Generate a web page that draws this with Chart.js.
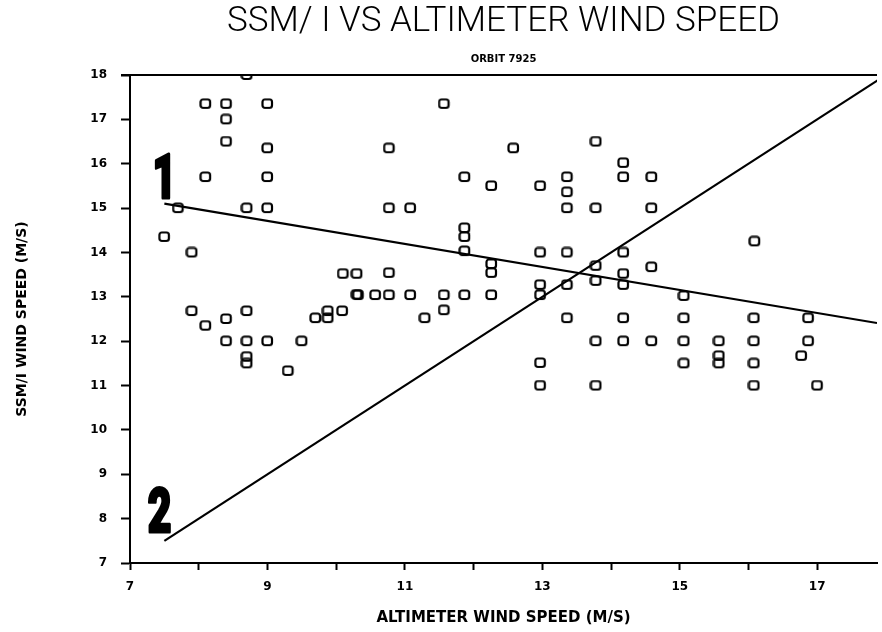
<!DOCTYPE html>
<html lang="en">
<head>
    <meta charset="UTF-8">
    <title>SSM/I vs Altimeter wind speed</title>
    <script src="https://cdn.jsdelivr.net/npm/chart.js"></script>
    <style>
        html, body { margin: 0; padding: 0; background: #fff; }
        #wrap { width: 882px; height: 632px; }
    </style>
</head>
<body>
<div id="wrap"><canvas id="chart" width="882" height="632"></canvas></div>
<script>
// altimeter wind speed (x) vs SSM/I wind speed (y), orbit 7925
const altimeter = [
    8.7, 8.1, 8.4, 9.0, 8.4, 8.4, 9.0, 8.1, 9.0, 7.7, 8.7, 9.0, 7.5, 7.9,
    10.1, 10.3, 10.3,
    11.57, 10.77, 12.58, 13.78, 11.87, 12.26, 12.97, 13.36, 13.36, 13.36, 10.77, 11.08, 13.78,
    11.87, 11.87, 11.87, 12.97, 13.36, 12.26, 12.26, 13.78, 10.77,
    14.18, 14.18, 14.59, 14.59, 16.09, 14.18, 14.59, 14.18, 14.18,
    7.9, 8.1, 8.4, 8.7, 8.4, 8.7, 8.7, 8.7, 9.0, 9.5, 9.3, 9.7, 9.88, 9.88, 10.09,
    10.32, 10.57, 10.77, 11.08, 11.57, 11.87, 12.26, 11.57, 11.29, 12.97, 12.97, 13.36, 13.78,
    13.36, 13.78, 12.97, 12.97, 13.78,
    15.06, 14.18, 15.06, 16.08, 16.87, 14.18, 14.59, 15.06, 15.57, 16.08, 16.87,
    15.57, 15.57, 16.77, 15.06, 16.08, 16.08, 17.0
];
const ssmi = [
    18.0, 17.35, 17.35, 17.35, 17.0, 16.5, 16.35, 15.7, 15.7, 15.0, 15.0, 15.0, 14.35, 14.0,
    13.52, 13.52, 13.05,
    17.35, 16.35, 16.35, 16.5, 15.7, 15.5, 15.5, 15.7, 15.36, 15.0, 15.0, 15.0, 15.0,
    14.55, 14.35, 14.03, 14.0, 14.0, 13.74, 13.54, 13.7, 13.54,
    16.02, 15.7, 15.7, 15.0, 14.25, 14.0, 13.67, 13.52, 13.27,
    12.68, 12.35, 12.5, 12.68, 12.0, 12.0, 11.65, 11.5, 12.0, 12.0, 11.33, 12.52, 12.68, 12.52, 12.68,
    13.04, 13.04, 13.04, 13.04, 13.04, 13.04, 13.04, 12.7, 12.52, 13.27, 13.04, 13.27, 13.36,
    12.52, 12.0, 11.51, 11.0, 11.0,
    13.02, 12.52, 12.52, 12.52, 12.52, 12.0, 12.0, 12.0, 12.0, 12.0, 12.0,
    11.67, 11.5, 11.67, 11.5, 11.5, 11.0, 11.0
];

// line 1 (fit) and line 2 (one to one)
const line1X = [7.5, 17.87];
const line1Y = [15.1, 12.41];
const line2X = [7.5, 17.9];
const line2Y = [7.5, 17.9];

const lineNames = ["1", "2"];
const nameX = [7.5, 7.43];
const nameY = [15.23, 7.7];

const xTickLabels = [7, 9, 11, 13, 15, 17];

const toPoints = (xs, ys) => xs.map((x, i) => ({ x: x, y: ys[i] }));

// small hollow box marker like the plotter one
function boxMarker() {
    const c = document.createElement("canvas");
    c.width = 13;
    c.height = 12;
    const g = c.getContext("2d");
    g.strokeStyle = "#000";
    g.lineWidth = 2.2;
    g.beginPath();
    g.roundRect(1.5, 1.5, 9.5, 8.5, 2.5);
    g.stroke();
    return c;
}

// big line numbers and the top frame line
const extras = {
    id: "extras",
    afterDatasetsDraw(chart) {
        const ctx = chart.ctx;
        const xs = chart.scales.x, ys = chart.scales.y;
        const area = chart.chartArea;
        ctx.save();
        ctx.strokeStyle = "#000";
        ctx.lineWidth = 2;
        ctx.beginPath();
        ctx.moveTo(area.left - 9, area.top);
        ctx.lineTo(area.right, area.top);
        ctx.stroke();

        ctx.fillStyle = "#000";
        ctx.lineWidth = 3;
        ctx.lineJoin = "round";
        ctx.font = '900 62px Roboto, sans-serif';
        ctx.textAlign = "center";
        ctx.textBaseline = "alphabetic";
        lineNames.forEach((name, i) => {
            ctx.save();
            ctx.translate(xs.getPixelForValue(nameX[i]), ys.getPixelForValue(nameY[i]));
            ctx.scale(0.66, 1);
            ctx.fillText(name, 0, 0);
            ctx.strokeText(name, 0, 0);
            ctx.restore();
        });
        ctx.restore();
    }
};

new Chart(document.getElementById("chart").getContext("2d"), {
    type: "scatter",
    data: {
        datasets: [{
            label: "SSM/I",
            data: toPoints(altimeter, ssmi),
            pointStyle: boxMarker(),
            borderColor: "#000",
            backgroundColor: "#fff",
            showLine: false
        }, {
            label: "1",
            data: toPoints(line1X, line1Y),
            showLine: true,
            pointRadius: 0,
            borderColor: "#000",
            borderWidth: 2.2
        }, {
            label: "2",
            data: toPoints(line2X, line2Y),
            showLine: true,
            pointRadius: 0,
            borderColor: "#000",
            borderWidth: 2.2
        }]
    },
    options: {
        responsive: false,
        animation: false,
        devicePixelRatio: 1,
        layout: { padding: { left: 0, right: 0, top: 0, bottom: 0 } },
        plugins: {
            legend: { display: false },
            tooltip: { enabled: false },
            title: {
                display: true,
                fullSize: false,
                text: "SSM/ I VS ALTIMETER WIND SPEED",
                color: "#000",
                font: { family: "Roboto", size: 35, weight: 300, lineHeight: 1.2 },
                padding: { top: 1, bottom: 6 }
            },
            subtitle: {
                display: true,
                fullSize: false,
                text: "ORBIT 7925",
                color: "#000",
                font: { family: "DejaVu Sans", size: 10, weight: "bold", lineHeight: 1.2 },
                padding: { top: 4, bottom: 10 }
            }
        },
        scales: {
            x: {
                type: "linear",
                min: 7,
                max: 17.87,
                afterBuildTicks: (s) => { s.ticks = s.ticks.filter(t => Number.isInteger(t.value)); },
                afterFit: (s) => { s.height = 69; },
                ticks: {
                    stepSize: 1,
                    color: "#000",
                    padding: 10,
                    maxRotation: 0,
                    autoSkip: false,
                    font: { family: "DejaVu Sans", size: 12, weight: "bold" },
                    callback: (v) => xTickLabels.includes(v) ? String(v) : ""
                },
                grid: { drawOnChartArea: false, tickLength: 7, tickColor: "#000", tickWidth: 2 },
                border: { color: "#000", width: 2 },
                title: {
                    display: true,
                    text: "ALTIMETER WIND SPEED (M/S)",
                    color: "#000",
                    font: { family: "DejaVu Sans", size: 15, weight: "bold", lineHeight: 1.2 },
                    padding: { top: 0, bottom: 5 }
                }
            },
            y: {
                min: 7,
                max: 18,
                afterFit: (s) => { s.width = 130; },
                ticks: {
                    stepSize: 1,
                    color: "#000",
                    padding: 14,
                    font: { family: "DejaVu Sans", size: 12, weight: "bold" }
                },
                grid: { drawOnChartArea: false, tickLength: 9, tickColor: "#000", tickWidth: 2 },
                border: { color: "#000", width: 2 },
                title: {
                    display: true,
                    text: "SSM/I WIND SPEED (M/S)",
                    color: "#000",
                    font: { family: "DejaVu Sans", size: 14, weight: "bold", lineHeight: 1.2 },
                    padding: { top: 14, bottom: 0 }
                }
            }
        }
    },
    plugins: [extras]
});
</script>
</body>
</html>
